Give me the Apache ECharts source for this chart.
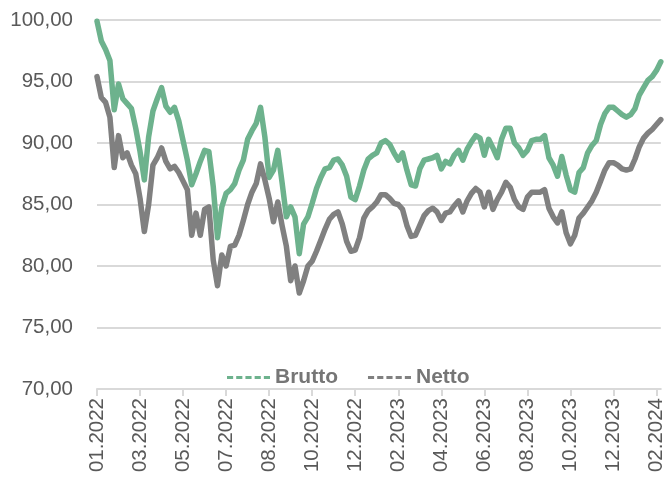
<!DOCTYPE html>
<html>
<head>
<meta charset="utf-8">
<script src="https://cdn.jsdelivr.net/npm/echarts@6/dist/echarts.min.js"></script>
<style>
html,body{margin:0;padding:0;background:#fff;}
#chart{width:667px;height:481px;}
</style>
</head>
<body>
<div id="chart"></div>
<script>
// Tick labels shown on the category axis (one every 10 observations)
const tickLabels = ["01.2022","03.2022","05.2022","07.2022","08.2022","10.2022","12.2022",
  "02.2023","04.2023","06.2023","08.2023","10.2023","12.2023","02.2024"];
const pointsPerTick = 10;

const brutto = [
  99.9,98.3,97.6,96.7,92.7,94.8,93.6,93.2,92.8,91.2,
  89.3,87.0,90.5,92.6,93.6,94.5,93.0,92.5,92.9,91.8,
  90.2,88.6,86.6,87.5,88.5,89.4,89.3,86.5,82.3,84.8,
  85.9,86.2,86.7,87.8,88.6,90.3,91.0,91.6,92.9,90.5,
  87.2,87.8,89.4,86.8,84.0,84.8,84.0,81.0,83.4,84.0,
  85.1,86.3,87.2,87.9,88.0,88.6,88.7,88.2,87.3,85.6,
  85.4,86.5,87.8,88.7,89.0,89.2,90.0,90.2,89.9,89.2,
  88.6,89.2,87.8,86.6,86.5,87.9,88.6,88.7,88.8,89.0,
  87.9,88.5,88.3,89.0,89.4,88.6,89.5,90.1,90.6,90.4,
  89.0,90.3,89.6,88.8,90.3,91.2,91.2,90.0,89.6,89.0,
  89.4,90.2,90.3,90.3,90.6,88.8,88.2,87.3,88.9,87.4,
  86.2,86.0,87.6,88.0,89.2,89.8,90.2,91.5,92.4,92.9,
  92.9,92.6,92.3,92.1,92.3,92.8,93.9,94.5,95.1,95.4,
  95.9,96.6
];

const netto = [
  95.4,93.7,93.3,92.1,88.0,90.6,88.8,89.2,88.2,87.5,
  85.5,82.8,85.0,88.2,88.8,89.6,88.5,87.9,88.1,87.6,
  86.9,86.2,82.5,84.3,82.5,84.6,84.8,80.5,78.4,80.9,
  80.0,81.6,81.7,82.5,83.7,85.0,86.0,86.7,88.3,87.0,
  85.5,83.6,85.2,83.3,81.6,78.8,80.0,77.8,78.8,80.0,
  80.4,81.2,82.1,83.0,83.8,84.2,84.4,83.4,82.0,81.2,
  81.3,82.3,83.9,84.5,84.8,85.2,85.8,85.8,85.5,85.1,
  85.0,84.6,83.3,82.4,82.5,83.3,84.1,84.5,84.7,84.4,
  83.7,84.3,84.4,84.9,85.3,84.4,85.3,85.9,86.3,86.0,
  84.8,86.0,84.6,85.4,86.0,86.8,86.4,85.4,84.8,84.6,
  85.6,86.0,86.0,86.0,86.2,84.7,84.0,83.5,84.4,82.7,
  81.8,82.5,83.9,84.3,84.8,85.3,86.0,86.9,87.8,88.4,
  88.4,88.2,87.9,87.8,87.9,88.7,89.7,90.4,90.8,91.1,
  91.5,91.9
];

const seriesNames = ["Brutto", "Netto"];
const categories = brutto.map((_, i) => String(i));

const chart = echarts.init(document.getElementById('chart'), null, {renderer: 'canvas'});
const fontFam = '"Liberation Sans", Arial, sans-serif';

chart.setOption({
  animation: false,
  backgroundColor: '#ffffff',
  grid: {left: 97, right: 2, top: 20, bottom: 92, containLabel: false},
  legend: {
    left: 222, top: 362,
    itemWidth: 43, itemHeight: 12, itemGap: 30,
    icon: 'path://M0,0 L6,0 L6,3 L0,3 Z M9,0 L15,0 L15,3 L9,3 Z M18,0 L24,0 L24,3 L18,3 Z M27,0 L33,0 L33,3 L27,3 Z M36,0 L42,0 L42,3 L36,3 Z',
    textStyle: {color: '#767676', fontSize: 21, fontWeight: 'bold', fontFamily: fontFam},
    data: seriesNames
  },
  xAxis: {
    type: 'category',
    data: categories,
    boundaryGap: false,
    axisLine: {lineStyle: {color: '#d9d9d9', width: 2}},
    axisTick: {show: true, interval: pointsPerTick - 1, length: 7, lineStyle: {color: '#d9d9d9', width: 2}},
    axisLabel: {
      interval: pointsPerTick - 1,
      rotate: 90,
      margin: 9,
      color: '#595959',
      fontSize: 20.5,
      fontFamily: fontFam,
      formatter: (v, idx) => tickLabels[Math.round(idx / pointsPerTick)] || ''
    },
    splitLine: {show: false}
  },
  yAxis: {
    type: 'value',
    min: 70, max: 100, interval: 5,
    axisLine: {show: false},
    axisTick: {show: false},
    axisLabel: {
      color: '#595959', fontSize: 20.5, fontFamily: fontFam, margin: 24,
      formatter: v => v.toFixed(2).replace('.', ',')
    },
    splitLine: {lineStyle: {color: '#d9d9d9', width: 2}}
  },
  series: [
    {
      name: seriesNames[0], type: 'line', data: brutto,
      showSymbol: false, symbol: 'none',
      lineStyle: {color: '#6db28d', width: 5.5, join: 'round', cap: 'round'},
      itemStyle: {color: '#6db28d'}
    },
    {
      name: seriesNames[1], type: 'line', data: netto,
      showSymbol: false, symbol: 'none',
      lineStyle: {color: '#808080', width: 5.5, join: 'round', cap: 'round'},
      itemStyle: {color: '#808080'}
    }
  ]
});
</script>
</body>
</html>
